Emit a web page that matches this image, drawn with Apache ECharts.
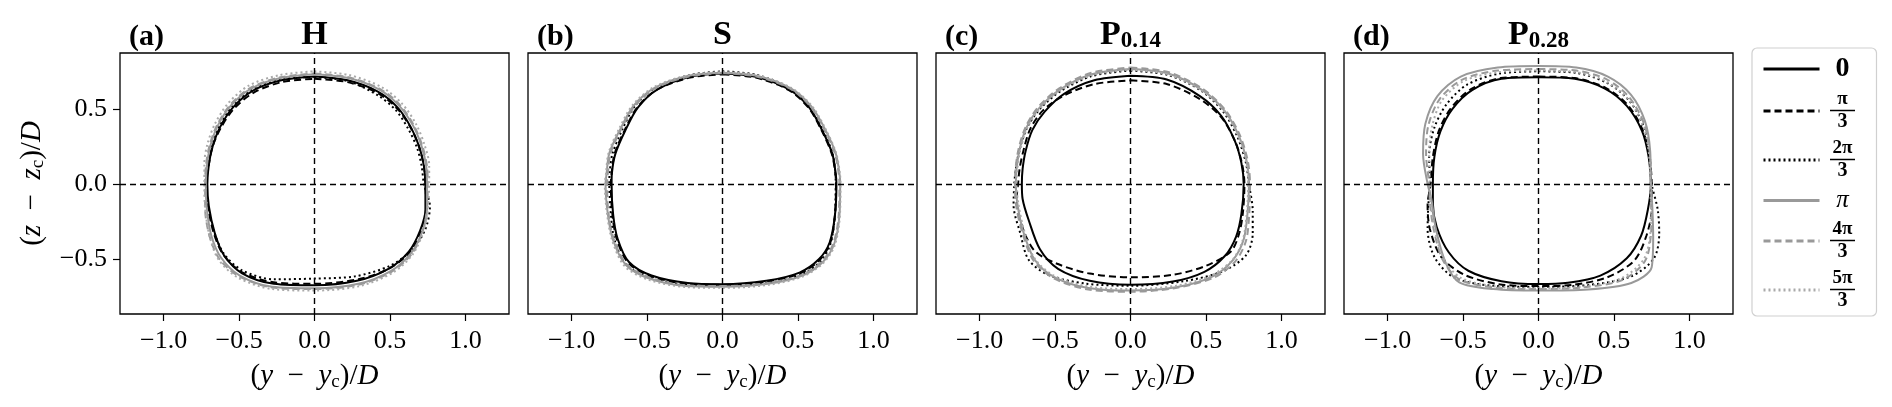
<!DOCTYPE html>
<html>
<head>
<meta charset="utf-8">
<script src="https://cdn.jsdelivr.net/npm/echarts@6/dist/echarts.min.js"></script>
<style>
html, body { margin: 0; padding: 0; background: #fff; }
#chart { width: 1892px; height: 407px; }
</style>
</head>
<body>
<div id="chart"></div>
<script>
// legend names, one per phase
const phases = ['0', 'π/3', '2π/3', 'π', '4π/3', '5π/3']
const panelLetters = ['(a)', '(b)', '(c)', '(d)']
const panelNames = ['H', 'S', 'P', 'P']
const panelSubs = ['', '', '0.14', '0.28']
const xTicks = [-1.0, -0.5, 0.0, 0.5, 1.0]
const yTicks = [-0.5, 0.0, 0.5]

// contour points [(y-yc)/D, (z-zc)/D]
// case H
const H_0 = [[0,0.715],[0.22,0.69],[0.42,0.615],[0.55,0.51],[0.64,0.375],[0.695,0.245],[0.725,0.12],[0.735,0],[0.735,-0.17],[0.70,-0.31],[0.625,-0.45],[0.49,-0.565],[0.28,-0.645],[0,-0.675],[-0.27,-0.665],[-0.48,-0.595],[-0.60,-0.475],[-0.66,-0.33],[-0.70,-0.15],[-0.71,0],[-0.70,0.13],[-0.675,0.25],[-0.625,0.38],[-0.54,0.51],[-0.41,0.62],[-0.22,0.69],[0,0.715]]
const H_1 = [[0,0.70],[0.22,0.678],[0.42,0.605],[0.55,0.50],[0.64,0.37],[0.695,0.24],[0.725,0.12],[0.735,0],[0.74,-0.17],[0.71,-0.31],[0.635,-0.45],[0.50,-0.56],[0.29,-0.635],[0,-0.665],[-0.27,-0.655],[-0.485,-0.585],[-0.605,-0.47],[-0.67,-0.32],[-0.705,-0.15],[-0.715,0],[-0.70,0.13],[-0.675,0.25],[-0.62,0.375],[-0.535,0.50],[-0.40,0.61],[-0.21,0.68],[0,0.70]]
const H_2 = [[0,0.712],[0.22,0.685],[0.42,0.59],[0.54,0.49],[0.625,0.36],[0.68,0.24],[0.71,0.12],[0.725,0],[0.765,-0.15],[0.735,-0.30],[0.645,-0.44],[0.50,-0.545],[0.27,-0.615],[0,-0.63],[-0.27,-0.635],[-0.48,-0.575],[-0.60,-0.465],[-0.665,-0.32],[-0.705,-0.15],[-0.715,0],[-0.705,0.13],[-0.68,0.25],[-0.63,0.385],[-0.545,0.515],[-0.415,0.625],[-0.22,0.695],[0,0.712]]
const H_3 = [[0,0.73],[0.225,0.705],[0.43,0.628],[0.562,0.52],[0.655,0.385],[0.71,0.25],[0.74,0.12],[0.745,0],[0.745,-0.17],[0.715,-0.315],[0.64,-0.46],[0.505,-0.58],[0.29,-0.665],[0,-0.695],[-0.28,-0.685],[-0.495,-0.61],[-0.62,-0.49],[-0.685,-0.34],[-0.715,-0.15],[-0.72,0],[-0.712,0.13],[-0.69,0.255],[-0.64,0.39],[-0.553,0.523],[-0.42,0.635],[-0.225,0.705],[0,0.73]]
const H_4 = [[0,0.735],[0.227,0.71],[0.435,0.632],[0.567,0.525],[0.66,0.387],[0.715,0.252],[0.745,0.123],[0.75,0],[0.745,-0.17],[0.715,-0.32],[0.645,-0.465],[0.51,-0.585],[0.29,-0.672],[0,-0.70],[-0.28,-0.69],[-0.50,-0.615],[-0.63,-0.50],[-0.695,-0.35],[-0.725,-0.16],[-0.725,0],[-0.718,0.133],[-0.695,0.258],[-0.645,0.393],[-0.558,0.528],[-0.425,0.64],[-0.227,0.71],[0,0.735]]
const H_5 = [[0,0.75],[0.23,0.725],[0.445,0.645],[0.58,0.535],[0.675,0.395],[0.73,0.258],[0.76,0.126],[0.76,0],[0.75,-0.17],[0.72,-0.32],[0.65,-0.47],[0.52,-0.59],[0.30,-0.68],[0,-0.71],[-0.28,-0.70],[-0.505,-0.625],[-0.635,-0.505],[-0.695,-0.35],[-0.725,-0.16],[-0.73,0],[-0.73,0.136],[-0.71,0.264],[-0.66,0.40],[-0.57,0.54],[-0.435,0.655],[-0.232,0.725],[0,0.75]]

// case S
const S_0 = [[0,0.735],[0.22,0.713],[0.44,0.63],[0.574,0.51],[0.662,0.354],[0.728,0.20],[0.75,0.07],[0.755,0],[0.745,-0.21],[0.71,-0.39],[0.64,-0.50],[0.51,-0.59],[0.29,-0.645],[0,-0.668],[-0.23,-0.66],[-0.47,-0.61],[-0.62,-0.52],[-0.695,-0.365],[-0.725,-0.20],[-0.735,0],[-0.733,0.07],[-0.71,0.20],[-0.645,0.354],[-0.56,0.51],[-0.43,0.63],[-0.215,0.713],[0,0.735]]
const S_1 = [[0,0.73],[0.22,0.708],[0.44,0.625],[0.572,0.505],[0.66,0.35],[0.725,0.198],[0.748,0.07],[0.752,0],[0.745,-0.21],[0.715,-0.39],[0.645,-0.505],[0.515,-0.595],[0.29,-0.65],[0,-0.672],[-0.23,-0.665],[-0.475,-0.615],[-0.625,-0.525],[-0.70,-0.37],[-0.73,-0.20],[-0.74,0],[-0.735,0.07],[-0.715,0.20],[-0.65,0.355],[-0.565,0.51],[-0.435,0.628],[-0.215,0.708],[0,0.73]]
const S_2 = [[0,0.75],[0.22,0.728],[0.445,0.64],[0.578,0.515],[0.665,0.36],[0.73,0.20],[0.748,0.07],[0.75,0],[0.745,-0.21],[0.715,-0.40],[0.65,-0.515],[0.52,-0.605],[0.295,-0.66],[0,-0.68],[-0.24,-0.672],[-0.485,-0.625],[-0.64,-0.535],[-0.715,-0.375],[-0.74,-0.20],[-0.75,0],[-0.748,0.07],[-0.73,0.20],[-0.665,0.36],[-0.58,0.52],[-0.445,0.64],[-0.22,0.725],[0,0.75]]
const S_3 = [[0,0.74],[0.225,0.72],[0.45,0.638],[0.59,0.515],[0.682,0.36],[0.75,0.205],[0.775,0.07],[0.78,0],[0.775,-0.21],[0.74,-0.40],[0.665,-0.52],[0.53,-0.61],[0.30,-0.665],[0,-0.685],[-0.24,-0.68],[-0.485,-0.63],[-0.64,-0.54],[-0.725,-0.375],[-0.76,-0.20],[-0.775,0],[-0.768,0.07],[-0.75,0.205],[-0.68,0.36],[-0.59,0.52],[-0.45,0.64],[-0.225,0.72],[0,0.74]]
const S_4 = [[0,0.738],[0.225,0.716],[0.448,0.635],[0.585,0.513],[0.677,0.358],[0.745,0.203],[0.77,0.07],[0.775,0],[0.77,-0.21],[0.735,-0.395],[0.66,-0.515],[0.525,-0.605],[0.30,-0.66],[0,-0.68],[-0.24,-0.675],[-0.48,-0.625],[-0.635,-0.535],[-0.72,-0.37],[-0.755,-0.20],[-0.765,0],[-0.76,0.07],[-0.742,0.203],[-0.675,0.358],[-0.585,0.515],[-0.447,0.637],[-0.222,0.716],[0,0.738]]
const S_5 = [[0,0.745],[0.227,0.724],[0.452,0.642],[0.592,0.52],[0.685,0.362],[0.753,0.206],[0.778,0.07],[0.782,0],[0.778,-0.21],[0.745,-0.405],[0.67,-0.525],[0.535,-0.615],[0.305,-0.672],[0,-0.692],[-0.24,-0.687],[-0.49,-0.638],[-0.648,-0.548],[-0.73,-0.38],[-0.765,-0.20],[-0.78,0],[-0.772,0.07],[-0.755,0.207],[-0.688,0.362],[-0.597,0.523],[-0.455,0.645],[-0.227,0.724],[0,0.745]]

// case P0.14
const P14_0 = [[0,0.72],[0.24,0.695],[0.46,0.585],[0.60,0.455],[0.69,0.29],[0.735,0.14],[0.75,0],[0.735,-0.20],[0.70,-0.35],[0.625,-0.48],[0.49,-0.585],[0.28,-0.65],[0,-0.672],[-0.27,-0.645],[-0.48,-0.565],[-0.60,-0.435],[-0.675,-0.24],[-0.715,-0.10],[-0.72,0],[-0.715,0.10],[-0.695,0.22],[-0.65,0.36],[-0.57,0.48],[-0.44,0.60],[-0.24,0.69],[0,0.72]]
const P14_1 = [[0,0.69],[0.24,0.665],[0.46,0.565],[0.605,0.44],[0.695,0.28],[0.74,0.13],[0.755,0],[0.745,-0.19],[0.72,-0.33],[0.665,-0.45],[0.50,-0.545],[0.28,-0.605],[0,-0.622],[-0.27,-0.597],[-0.49,-0.53],[-0.64,-0.44],[-0.73,-0.25],[-0.755,-0.10],[-0.745,0],[-0.735,0.10],[-0.71,0.22],[-0.665,0.365],[-0.58,0.49],[-0.44,0.59],[-0.24,0.665],[0,0.69]]
const P14_2 = [[0,0.755],[0.25,0.725],[0.47,0.62],[0.615,0.48],[0.71,0.31],[0.765,0.14],[0.785,0],[0.81,-0.18],[0.81,-0.33],[0.765,-0.475],[0.615,-0.58],[0.35,-0.648],[0,-0.678],[-0.30,-0.663],[-0.545,-0.605],[-0.675,-0.505],[-0.73,-0.33],[-0.775,-0.14],[-0.77,0],[-0.76,0.10],[-0.735,0.23],[-0.685,0.375],[-0.60,0.50],[-0.46,0.62],[-0.25,0.72],[0,0.755]]
const P14_3 = [[0,0.765],[0.25,0.735],[0.475,0.625],[0.625,0.485],[0.72,0.315],[0.77,0.15],[0.785,0],[0.775,-0.20],[0.75,-0.37],[0.68,-0.505],[0.545,-0.615],[0.30,-0.688],[0,-0.71],[-0.28,-0.693],[-0.505,-0.62],[-0.635,-0.505],[-0.71,-0.32],[-0.75,-0.13],[-0.76,0],[-0.755,0.10],[-0.735,0.23],[-0.69,0.375],[-0.605,0.505],[-0.465,0.63],[-0.255,0.73],[0,0.765]]
const P14_4 = [[0,0.775],[0.25,0.745],[0.48,0.632],[0.63,0.49],[0.727,0.32],[0.778,0.15],[0.792,0],[0.787,-0.20],[0.765,-0.38],[0.695,-0.515],[0.555,-0.622],[0.30,-0.693],[0,-0.718],[-0.28,-0.703],[-0.505,-0.63],[-0.64,-0.515],[-0.715,-0.33],[-0.76,-0.13],[-0.765,0],[-0.762,0.10],[-0.742,0.232],[-0.695,0.38],[-0.612,0.512],[-0.47,0.638],[-0.26,0.74],[0,0.775]]
const P14_5 = [[0,0.76],[0.25,0.73],[0.472,0.622],[0.622,0.482],[0.716,0.312],[0.767,0.15],[0.78,0],[0.77,-0.20],[0.745,-0.37],[0.68,-0.50],[0.54,-0.607],[0.30,-0.678],[0,-0.70],[-0.28,-0.683],[-0.505,-0.612],[-0.635,-0.497],[-0.705,-0.31],[-0.745,-0.12],[-0.755,0],[-0.75,0.10],[-0.73,0.228],[-0.685,0.372],[-0.60,0.502],[-0.462,0.625],[-0.25,0.725],[0,0.76]]

// case P0.28
const P28_0 = [[0,0.71],[0.24,0.70],[0.44,0.635],[0.585,0.52],[0.685,0.355],[0.73,0.18],[0.745,0],[0.725,-0.17],[0.68,-0.345],[0.585,-0.495],[0.41,-0.61],[0.195,-0.658],[0,-0.667],[-0.245,-0.648],[-0.465,-0.578],[-0.595,-0.455],[-0.675,-0.285],[-0.70,-0.13],[-0.70,0],[-0.69,0.18],[-0.65,0.35],[-0.57,0.50],[-0.44,0.625],[-0.245,0.70],[0,0.71]]
const P28_1 = [[0,0.715],[0.24,0.705],[0.445,0.64],[0.592,0.525],[0.69,0.36],[0.735,0.18],[0.75,0],[0.75,-0.17],[0.715,-0.345],[0.635,-0.51],[0.455,-0.622],[0.22,-0.672],[0,-0.68],[-0.26,-0.668],[-0.495,-0.603],[-0.645,-0.485],[-0.72,-0.30],[-0.735,-0.14],[-0.715,0],[-0.70,0.18],[-0.66,0.355],[-0.58,0.505],[-0.45,0.63],[-0.25,0.705],[0,0.715]]
const P28_2 = [[0,0.75],[0.25,0.74],[0.46,0.67],[0.605,0.55],[0.70,0.375],[0.735,0.19],[0.75,0],[0.79,-0.17],[0.80,-0.33],[0.765,-0.495],[0.615,-0.615],[0.33,-0.673],[0,-0.685],[-0.30,-0.678],[-0.555,-0.625],[-0.685,-0.495],[-0.735,-0.30],[-0.73,-0.14],[-0.72,0],[-0.725,0.19],[-0.69,0.375],[-0.61,0.53],[-0.475,0.66],[-0.26,0.735],[0,0.75]]
const P28_3 = [[0,0.785],[0.25,0.775],[0.46,0.715],[0.612,0.595],[0.705,0.42],[0.74,0.22],[0.745,0],[0.755,-0.17],[0.76,-0.35],[0.75,-0.555],[0.615,-0.66],[0.33,-0.703],[0,-0.71],[-0.30,-0.70],[-0.525,-0.655],[-0.615,-0.525],[-0.68,-0.30],[-0.71,-0.10],[-0.735,0],[-0.765,0.20],[-0.75,0.40],[-0.67,0.585],[-0.515,0.715],[-0.27,0.775],[0,0.785]]
const P28_4 = [[0,0.765],[0.25,0.755],[0.455,0.695],[0.603,0.575],[0.70,0.40],[0.737,0.21],[0.745,0],[0.75,-0.17],[0.745,-0.34],[0.705,-0.515],[0.555,-0.64],[0.30,-0.688],[0,-0.70],[-0.29,-0.69],[-0.525,-0.635],[-0.635,-0.505],[-0.695,-0.30],[-0.72,-0.12],[-0.725,0],[-0.745,0.20],[-0.73,0.39],[-0.655,0.565],[-0.505,0.695],[-0.27,0.755],[0,0.765]]
const P28_5 = [[0,0.755],[0.25,0.745],[0.45,0.68],[0.598,0.56],[0.695,0.385],[0.732,0.20],[0.74,0],[0.745,-0.17],[0.74,-0.34],[0.695,-0.505],[0.545,-0.63],[0.29,-0.683],[0,-0.695],[-0.28,-0.683],[-0.515,-0.625],[-0.63,-0.495],[-0.69,-0.29],[-0.715,-0.12],[-0.72,0],[-0.725,0.20],[-0.705,0.385],[-0.64,0.555],[-0.495,0.685],[-0.26,0.745],[0,0.755]]

const panelData = [
  [H_0, H_1, H_2, H_3, H_4, H_5],
  [S_0, S_1, S_2, S_3, S_4, S_5],
  [P14_0, P14_1, P14_2, P14_3, P14_4, P14_5],
  [P28_0, P28_1, P28_2, P28_3, P28_4, P28_5]
]

const FONT = "'Liberation Serif', 'DejaVu Serif', serif"
const GRAY = '#999999'
const lineStyles = [
  { color: '#000', type: 'solid' },
  { color: '#000', type: [7, 4] },
  { color: '#000', type: [2, 3] },
  { color: GRAY, type: 'solid' },
  { color: GRAY, type: [7, 4] },
  { color: '#aaaaaa', type: [2, 3] }
]

const gridLeft = [120, 528, 936, 1344]
const GRID_W = 389
const GRID_TOP = 53
const GRID_H = 261

function fmtTick(v) {
  return (v < 0 ? '\u2212' : '') + Math.abs(v).toFixed(1)
}

const mathRich = {
  r: { fontFamily: FONT, fontSize: 29, color: '#000', lineHeight: 32 },
  i: { fontFamily: FONT, fontSize: 29, fontStyle: 'italic', color: '#000', lineHeight: 32 },
  s: { fontFamily: FONT, fontSize: 19, color: '#000', lineHeight: 18, verticalAlign: 'bottom' }
}

const chart = echarts.init(document.getElementById('chart'))

const grids = []
const xAxes = []
const yAxes = []
const series = []
const graphics = []

for (let p = 0; p < 4; p++) {
  grids.push({
    left: gridLeft[p], top: GRID_TOP, width: GRID_W, height: GRID_H,
    show: true, borderColor: '#000', borderWidth: 1.3, backgroundColor: 'transparent'
  })
  xAxes.push({
    type: 'value', gridIndex: p, min: -1.289, max: 1.289,
    axisLine: { show: false, onZero: false },
    splitLine: { show: false },
    axisTick: { show: true, customValues: xTicks, length: 7, lineStyle: { color: '#000', width: 1.2 } },
    axisLabel: { customValues: xTicks, formatter: fmtTick, fontFamily: FONT, fontSize: 26, color: '#000', margin: 14 },
    name: '{r|(}{i|y}{r|\u2002\u2212\u2002}{i|y}{s|c}{r|)/}{i|D}',
    nameLocation: 'middle', nameGap: 46,
    nameTextStyle: { rich: mathRich }
  })
  const yAx = {
    type: 'value', gridIndex: p, min: -0.866, max: 0.872,
    axisLine: { show: false, onZero: false },
    splitLine: { show: false },
    axisTick: { show: p === 0, customValues: yTicks, length: 7, lineStyle: { color: '#000', width: 1.2 } },
    axisLabel: { show: p === 0, customValues: yTicks, formatter: fmtTick, fontFamily: FONT, fontSize: 26, color: '#000', margin: 13 }
  }
  if (p === 0) {
    yAx.name = '{r|(}{i|z}{r|\u2002\u2212\u2002}{i|z}{s|c}{r|)/}{i|D}'
    yAx.nameLocation = 'middle'
    yAx.nameGap = 72
    yAx.nameRotate = 90
    yAx.nameTextStyle = { rich: mathRich }
  }
  yAxes.push(yAx)

  for (let k = 0; k < 6; k++) {
    const s = {
      name: phases[k],
      type: 'line',
      xAxisIndex: p,
      yAxisIndex: p,
      data: panelData[p][k],
      symbol: 'none',
      smooth: 0.3,
      lineStyle: { color: lineStyles[k].color, type: lineStyles[k].type, width: 2 },
      itemStyle: { color: lineStyles[k].color },
      z: 2 + k
    }
    if (k === 0) {
      s.markLine = {
        silent: true,
        symbol: ['none', 'none'],
        label: { show: false },
        lineStyle: { color: '#000', type: [6, 4], width: 1.4 },
        data: [{ xAxis: 0 }, { yAxis: 0 }],
        z: 10
      }
    }
    series.push(s)
  }

  // panel letter and title
  const cx = gridLeft[p] + GRID_W / 2
  graphics.push({
    type: 'text', x: gridLeft[p] + 9, y: 37,
    style: { text: panelLetters[p], font: 'bold 30px ' + FONT, fill: '#000', verticalAlign: 'middle' }
  })
  const titleText = panelSubs[p] ? '{b|' + panelNames[p] + '}{s|' + panelSubs[p] + '}' : '{b|' + panelNames[p] + '}'
  graphics.push({
    type: 'text', x: cx, y: 35,
    style: {
      text: titleText, align: 'center', verticalAlign: 'middle',
      rich: {
        b: { fontFamily: FONT, fontWeight: 'bold', fontSize: 34, fill: '#000', lineHeight: 36 },
        s: { fontFamily: FONT, fontWeight: 'bold', fontSize: 23, fill: '#000', lineHeight: 23, verticalAlign: 'bottom' }
      }
    }
  })
}

const option = {
  animation: false,
  backgroundColor: '#fff',
  grid: grids,
  xAxis: xAxes,
  yAxis: yAxes,
  series: series,
  graphic: graphics,
  legend: {
    data: phases,
    orient: 'vertical',
    left: 1752,
    top: 48,
    padding: [7, 16, 5, 10],
    itemGap: 7,
    itemWidth: 56,
    itemHeight: 14,
    borderColor: '#d0d0d0',
    borderWidth: 1.2,
    borderRadius: 5,
    lineStyle: { width: 3 },
    itemStyle: { opacity: 0 },
    formatter: function (name) {
      if (name === '0') return '{z|0}'
      if (name === 'π') return '{pi|π}'
      const parts = name.split('/')
      return '{n|' + parts[0] + '}\n{bar| }\n{d|' + parts[1] + '}'
    },
    textStyle: {
      color: '#000', fontFamily: FONT,
      rich: {
        z: { fontFamily: FONT, fontSize: 28, fontWeight: 'bold', lineHeight: 34, width: 36, align: 'center' },
        pi: { fontFamily: FONT, fontSize: 25, fontStyle: 'italic', lineHeight: 34, width: 36, align: 'center' },
        n: { fontFamily: FONT, fontSize: 19, fontWeight: 'bold', lineHeight: 18, width: 36, align: 'center' },
        bar: { fontSize: 1, width: 25, height: 1.5, lineHeight: 4, backgroundColor: '#000', align: 'center' },
        d: { fontFamily: FONT, fontSize: 20, fontWeight: 'bold', lineHeight: 19, width: 36, align: 'center' }
      }
    }
  }
}

chart.setOption(option)
window.addEventListener('resize', () => chart.resize())
</script>
</body>
</html>
